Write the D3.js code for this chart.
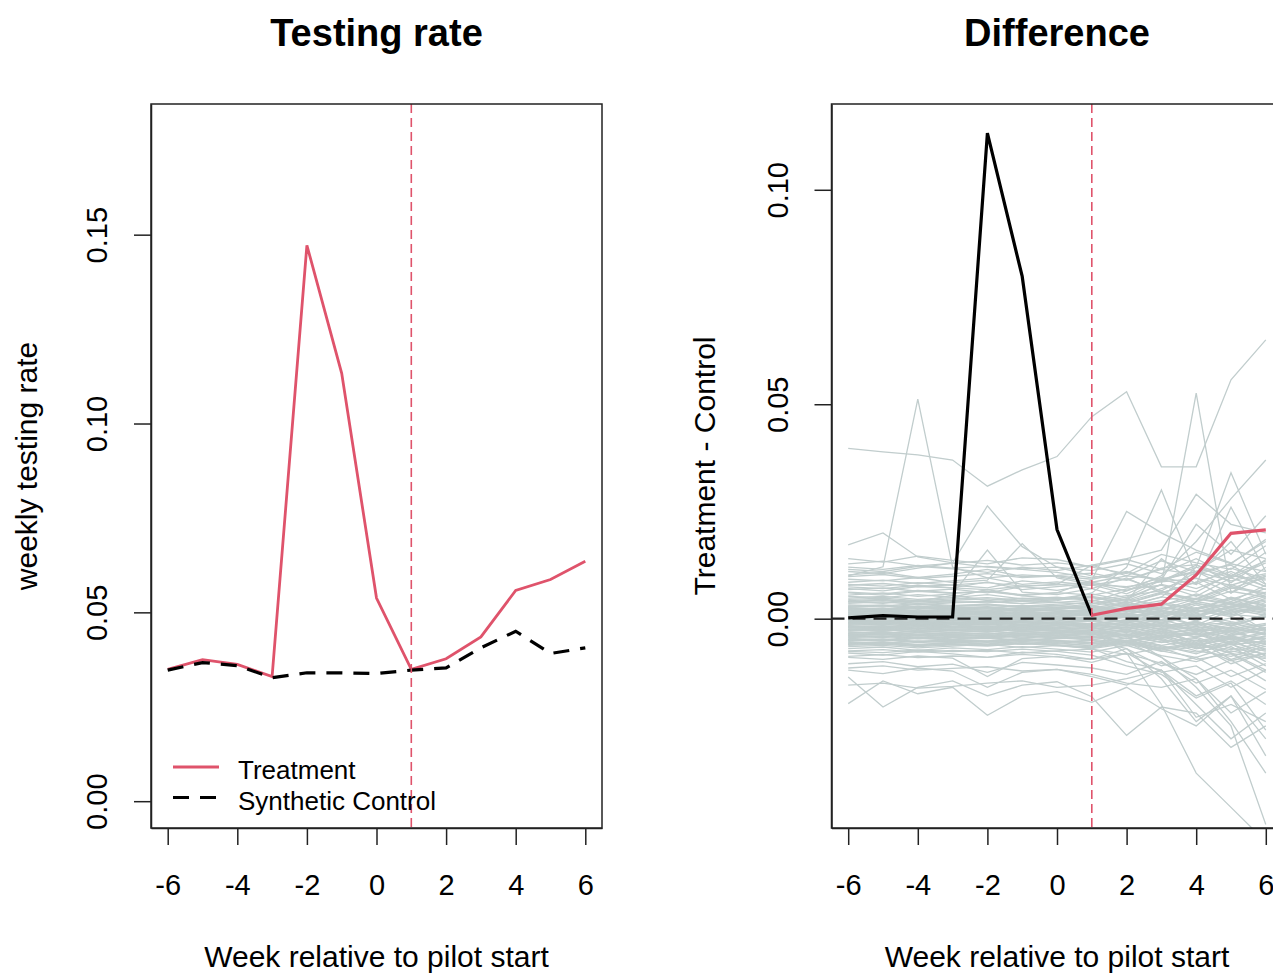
<!DOCTYPE html>
<html>
<head>
<meta charset="utf-8">
<script src="https://cdn.jsdelivr.net/npm/d3@7/dist/d3.min.js"></script>
<style>
	body { margin: 0; background: #fff; }
	svg { display: block; font-family: 'Liberation Sans', Arial, sans-serif; }
</style>
</head>
<body>
<div id="chart"></div>
<script>
// weeks relative to pilot start
var weeks = [-6, -5, -4, -3, -2, -1, 0, 1, 2, 3, 4, 5, 6];
var xTicks = [-6, -4, -2, 0, 2, 4, 6];
var pilotWeek = 1;

// left panel: weekly testing rate
var rateTicks = [0, 0.05, 0.10, 0.15];
var treatment = [0.0349, 0.0375, 0.0362, 0.0330, 0.1472, 0.1133, 0.0538, 0.0349, 0.0377, 0.0435, 0.0558, 0.0587, 0.0635];
var syntheticControl = [0.0347, 0.0367, 0.0359, 0.0327, 0.0340, 0.0340, 0.0338, 0.0347, 0.0353, 0.0406, 0.0450, 0.0391, 0.0406];

// right panel: treatment - control
var gapTicks = [0, 0.05, 0.10];
var gap = [0.0002, 0.0007, 0.0004, 0.0004, 0.1132, 0.0798, 0.0208, 0.0008, 0.0024, 0.0034, 0.0102, 0.0199, 0.0207];

// placebo gaps (one row per control unit), in thousandths
var placeboUnit = 0.001;
var placebo = [
	[0.5, 0.8, 0.3, 0.6, 0.2, 0.4, 0.1, -0.3, 0.6, 1.2, 2.0, 1.5, 2.8],
	[-1.2, -0.9, -1.5, -1.0, -1.3, -0.8, -1.1, -1.6, -2.0, -1.4, -2.5, -3.1, -2.2],
	[1.8, 1.5, 2.1, 1.7, 1.9, 2.4, 2.0, 1.6, 1.1, 2.3, 3.5, 2.6, 4.1],
	[-2.6, -2.9, -2.3, -2.8, -2.4, -3.0, -2.7, -3.3, -2.6, -4.1, -3.2, -5.5, -4.0],
	[-0.4, -0.2, -0.7, -0.3, -0.6, -0.1, -0.5, 0.3, -0.9, -0.2, 1.4, -1.8, 0.6],
	[2.9, 3.2, 2.6, 3.0, 3.4, 2.8, 3.1, 2.5, 3.8, 2.2, 4.6, 3.3, 1.9],
	[-3.8, -3.5, -4.0, -3.6, -4.2, -3.9, -3.4, -4.4, -3.7, -5.0, -6.2, -4.5, -7.1],
	[-4.9, -5.2, -4.6, -5.0, -5.4, -4.8, -5.1, -5.6, -6.3, -5.2, -7.5, -8.8, -6.4],
	[0.9, 1.2, 0.7, 1.1, 0.8, 1.3, 0.6, 1.0, 0.4, 1.6, -0.5, 2.2, 0.8],
	[-1.8, -2.1, -1.6, -2.0, -1.7, -2.2, -1.9, -1.3, -2.5, -1.1, -3.0, -2.0, -3.6],
	[3.6, 3.9, 3.3, 3.7, 4.0, 3.5, 3.8, 4.3, 3.0, 5.1, 3.9, 6.4, 5.0],
	[-5.8, -5.5, -6.1, -5.7, -5.3, -6.0, -5.6, -6.4, -5.2, -7.0, -5.9, -8.1, -9.3],
	[0.2, -0.1, 0.4, 0.0, 0.3, -0.2, 0.1, 0.5, 1.1, 0.4, 2.3, 3.6, 2.0],
	[-0.9, -1.2, -0.6, -1.0, -0.7, -1.3, -0.8, -0.4, -1.5, -2.3, -1.0, -3.4, -4.6],
	[1.3, 1.0, 1.6, 1.2, 1.5, 0.9, 1.4, 1.8, 2.5, 1.3, 0.6, 2.9, 4.4],
	[-3.1, -3.4, -2.9, -3.2, -3.6, -3.0, -3.3, -2.7, -4.0, -3.5, -5.2, -3.9, -6.0],
	[-2.2, -2.0, -2.5, -2.1, -1.8, -2.4, -2.3, -2.8, -1.9, -3.3, -2.6, -4.7, -3.2],
	[2.4, 2.1, 2.7, 2.3, 2.0, 2.6, 2.2, 2.9, 1.7, 3.2, 4.8, 3.5, 5.6],
	[-4.3, -4.0, -4.6, -4.2, -4.5, -3.9, -4.4, -4.8, -5.5, -4.1, -6.8, -5.3, -4.6],
	[0.0, 0.3, -0.2, 0.1, -0.3, 0.2, -0.1, -0.6, 0.4, -1.2, 0.9, -0.7, -2.1],
	[-1.5, -1.3, -1.8, -1.4, -1.2, -1.7, -1.6, -1.9, -1.1, -2.6, -1.8, -2.9, -1.4],
	[1.1, 1.4, 0.8, 1.3, 1.0, 1.5, 1.2, 0.7, 1.9, 0.9, 2.6, 1.2, 3.3],
	[-3.3, -3.0, -3.6, -3.2, -2.9, -3.5, -3.1, -3.7, -2.8, -4.4, -3.6, -6.1, -5.2],
	[-0.6, -0.9, -0.4, -0.8, -0.5, -1.0, -0.7, -1.2, -0.3, -1.6, -0.8, -2.4, -1.1],
	[-2.8, -2.5, -3.1, -2.7, -3.0, -2.4, -2.9, -3.2, -3.8, -2.5, -4.3, -3.0, -5.0],
	[0.7, 0.4, 0.9, 0.6, 0.5, 0.8, 0.3, 1.0, 0.2, 1.7, 0.4, 2.6, 1.5],
	[-4.6, -4.9, -4.3, -4.7, -4.4, -5.0, -4.5, -4.1, -5.2, -3.8, -6.0, -7.2, -5.5],
	[-1.0, -0.7, -1.3, -0.9, -1.1, -0.6, -1.2, -1.5, -0.8, -2.0, -1.4, -1.0, -2.7],
	[-5.3, -5.0, -5.6, -5.2, -5.5, -5.1, -5.4, -5.9, -5.0, -6.5, -7.8, -6.0, -8.5],
	[1.6, 1.9, 1.4, 1.8, 1.5, 2.0, 1.7, 2.2, 1.2, 2.8, 1.5, 3.9, 2.4],
	[-0.2, 0.1, -0.4, -0.1, -0.3, 0.0, -0.2, 0.2, -0.6, 0.8, -1.5, 1.9, -2.8],
	[-3.5, -3.8, -3.2, -3.6, -3.3, -3.9, -3.4, -3.0, -4.2, -2.6, -5.5, -4.0, -7.4],
	[2.1, 1.8, 2.4, 2.0, 2.3, 1.7, 2.2, 2.6, 1.5, 3.5, 2.0, 5.0, 3.1],
	[-4.1, -4.4, -3.8, -4.2, -3.9, -4.5, -4.0, -4.6, -3.5, -5.6, -4.3, -6.9, -8.2],
	[0.4, 0.1, 0.6, 0.3, 0.7, 0.2, 0.5, 0.0, 1.0, -0.5, 1.8, 0.5, 3.0],
	[-2.0, -1.7, -2.3, -1.9, -2.2, -1.6, -2.1, -2.5, -1.4, -3.0, -4.2, -2.3, -3.8],
	[-5.0, -4.7, -5.3, -4.9, -5.2, -4.6, -5.1, -5.5, -4.5, -6.2, -5.0, -9.5, -7.0],
	[1.4, 1.7, 1.1, 1.5, 1.2, 1.8, 1.3, 0.9, 2.2, 0.5, 3.2, 1.0, 0.3],
	[-1.3, -1.0, -1.6, -1.2, -1.5, -0.9, -1.4, -1.8, -0.8, -2.5, -1.2, -3.8, -2.0],
	[-6.2, -5.9, -6.5, -6.1, -6.4, -5.8, -6.3, -6.8, -5.5, -7.5, -9.0, -6.5, -11.0],
	[3.2, 3.0, 3.5, 3.1, 3.3, 2.9, 3.4, 3.7, 2.8, 4.2, 5.5, 3.6, 6.2],
	[-0.8, -0.5, -1.1, -0.7, -1.0, -0.4, -0.9, -1.3, -0.2, -1.9, -0.6, -2.8, -1.5],
	[4.2, 4.5, 3.9, 4.3, 4.6, 4.0, 4.4, 4.9, 3.6, 5.8, 4.5, 7.5, 6.0],
	[-2.4, -2.7, -2.1, -2.5, -2.2, -2.8, -2.3, -2.0, -3.1, -1.5, -3.8, -2.6, -5.4],
	[0.1, 0.4, -0.1, 0.2, 0.0, 0.5, 0.3, -0.2, 0.8, -0.9, 1.2, -1.5, 0.5],
	[-3.7, -3.4, -4.0, -3.6, -3.9, -3.3, -3.8, -4.2, -3.2, -4.9, -6.5, -4.2, -5.8],
	[2.6, 2.3, 2.9, 2.5, 2.8, 2.2, 2.7, 3.1, 2.0, 3.8, 2.4, 4.5, 2.0],
	[-5.5, -5.8, -5.2, -5.6, -5.3, -5.9, -5.4, -5.0, -6.0, -4.6, -7.0, -5.8, -10.0],
	[-1.6, -1.9, -1.3, -1.7, -1.4, -2.0, -1.5, -1.1, -2.2, -0.8, -2.8, -1.5, -3.5],
	[1.0, 0.7, 1.3, 0.9, 1.2, 0.6, 1.1, 1.5, 0.5, 2.0, 0.8, 3.0, 1.8],
	[-4.4, -4.1, -4.7, -4.3, -4.6, -4.0, -4.5, -4.9, -3.9, -5.5, -4.6, -7.8, -6.0],
	[3.9, 4.2, 3.6, 4.0, 3.7, 4.3, 3.8, 3.4, 4.6, 3.0, 5.8, 4.0, 7.8],
	[-0.3, -0.6, 0.0, -0.4, -0.1, -0.7, -0.2, 0.1, -0.8, 0.5, -1.6, 0.2, -2.5],
	[-2.9, -2.6, -3.2, -2.8, -3.1, -2.5, -3.0, -3.4, -2.4, -4.0, -2.9, -5.0, -3.5],
	[1.9, 2.2, 1.6, 2.0, 1.7, 2.3, 1.8, 1.4, 2.6, 1.0, 3.6, 1.8, 4.8],
	[-6.0, -5.7, -6.3, -5.9, -6.2, -5.6, -6.1, -6.6, -5.4, -7.3, -6.0, -10.5, -8.0],
	[0.6, 0.9, 0.3, 0.7, 0.4, 1.0, 0.5, 0.2, 1.3, -0.2, 2.0, 0.8, 3.8],
	[-3.9, -4.2, -3.6, -4.0, -3.7, -4.3, -3.8, -3.4, -4.6, -3.0, -5.8, -4.2, -6.6],
	[-1.1, -1.4, -0.8, -1.2, -0.9, -1.5, -1.0, -0.6, -1.7, -0.2, -2.3, -1.0, -3.0],
	[2.3, 2.0, 2.6, 2.2, 2.5, 1.9, 2.4, 2.8, 1.8, 3.4, 2.2, 4.8, 2.9],
	[-5.1, -4.8, -5.4, -5.0, -5.3, -4.7, -5.2, -5.6, -4.6, -6.3, -8.2, -5.5, -7.6],
	[-0.1, 0.2, -0.3, 0.0, -0.2, 0.1, -0.1, -0.4, 0.3, -0.8, 0.6, -1.2, 1.0],
	[-2.5, -2.2, -2.8, -2.4, -2.7, -2.1, -2.6, -3.0, -2.0, -3.6, -2.5, -4.4, -6.0],
	[1.5, 1.2, 1.8, 1.4, 1.7, 1.1, 1.6, 2.0, 1.0, 2.6, 1.4, 3.4, 2.2],
	[-4.8, -5.1, -4.5, -4.9, -4.6, -5.2, -4.7, -4.3, -5.4, -3.9, -6.2, -4.8, -8.8],
	[-1.9, -1.6, -2.2, -1.8, -2.1, -1.5, -2.0, -2.4, -1.4, -3.0, -1.9, -4.0, -2.5],
	[0.8, 0.5, 1.1, 0.7, 1.0, 0.4, 0.9, 1.3, 0.3, 1.9, 0.7, 2.6, 1.2],
	[-3.4, -3.1, -3.7, -3.3, -3.6, -3.0, -3.5, -3.9, -2.9, -4.6, -3.4, -5.8, -4.2],
	[2.7, 3.0, 2.4, 2.8, 2.5, 3.1, 2.6, 2.2, 3.4, 1.8, 4.0, 2.6, 5.2],
	[-5.7, -5.4, -6.0, -5.6, -5.9, -5.3, -5.8, -6.2, -5.2, -6.8, -5.6, -8.0, -12.0],
	[12.0, 11.5, 12.4, 11.8, 12.2, 11.6, 12.0, 11.2, 12.8, 10.5, 14.0, 9.8, 15.5],
	[8.5, 9.0, 8.2, 8.8, 9.5, 8.0, 8.6, 7.8, 9.2, 6.5, 10.8, 12.5, 8.0],
	[6.2, 5.8, 6.6, 6.0, 6.4, 5.6, 6.1, 5.5, 6.9, 7.8, 5.2, 9.5, 6.8],
	[10.2, 10.8, 9.6, 10.4, 11.5, 9.8, 10.1, 10.6, 9.0, 11.8, 12.6, 8.4, 13.8],
	[4.8, 5.2, 4.5, 4.9, 5.6, 4.6, 5.0, 4.2, 5.4, 6.5, 4.0, 7.2, 5.8],
	[14.0, 13.2, 14.6, 13.6, 12.8, 14.2, 13.8, 12.0, 10.5, 15.0, 13.0, 11.5, 17.0],
	[7.4, 7.0, 7.8, 7.2, 8.6, 6.8, 7.5, 8.2, 6.5, 9.0, 11.0, 7.0, 9.8],
	[17.2, 20.0, 14.4, 13.0, 12.0, 11.5, 10.8, 9.5, 11.0, 8.8, 12.5, 10.0, 9.0],
	[10.0, 12.1, 51.2, 12.0, 9.5, 10.2, 9.8, 8.5, 10.0, 9.2, 11.0, 8.8, 10.5],
	[11.0, 10.5, 11.8, 13.0, 26.3, 16.8, 12.0, 10.0, 9.0, 11.5, 10.2, 12.8, 11.0],
	[9.2, 8.8, 9.6, 8.4, 9.0, 17.5, 9.5, 8.0, 7.5, 8.6, 9.4, 7.8, 10.2],
	[5.5, 6.0, 5.2, 5.8, 16.0, 6.2, 5.6, 7.0, 4.8, 8.0, 6.2, 10.5, 7.5],
	[3.9, 4.4, 4.0, 5.5, 4.2, 4.8, 4.5, 5.0, 3.5, 6.0, 8.5, 4.5, 7.0],
	[8.0, 7.6, 8.4, 7.8, 7.2, 8.8, 8.1, 7.0, 9.5, 6.0, 8.5, 11.0, 7.5],
	[5.2, 4.9, 5.6, 5.0, 6.8, 5.3, 4.7, 5.8, 4.2, 7.0, 9.5, 6.0, 12.0],
	[11.5, 11.0, 12.2, 11.6, 10.8, 12.0, 11.2, 12.5, 10.0, 13.5, 11.0, 16.0, 14.0],
	[6.8, 7.2, 6.4, 6.9, 6.0, 7.5, 6.6, 7.9, 5.8, 9.2, 7.0, 10.0, 13.5],
	[9.8, 10.3, 9.4, 9.9, 10.5, 9.6, 10.0, 9.2, 10.8, 8.6, 12.0, 9.5, 13.0],
	[7.8, 8.2, 7.5, 7.9, 8.4, 7.6, 7.9, 8.5, 7.2, 9.6, 8.0, 11.8, 9.2],
	[12.8, 13.4, 12.3, 12.9, 13.6, 12.5, 13.0, 12.2, 13.8, 11.5, 15.5, 12.8, 18.5],
	[4.5, 4.8, 4.2, 4.6, 4.9, 4.3, 4.7, 5.2, 4.0, 6.2, 4.6, 8.0, 5.2],
	[-13.6, -20.6, -16.0, -14.5, -18.0, -15.5, -14.7, -18.2, -27.2, -20.6, -22.0, -30.0, -25.0],
	[-19.8, -14.5, -17.5, -16.0, -22.5, -18.0, -17.0, -19.5, -16.0, -21.0, -25.0, -18.0, -28.0],
	[-8.0, -8.5, -7.6, -8.2, -9.0, -7.8, -8.3, -9.5, -7.0, -11.0, -9.0, -13.5, -10.5],
	[-10.5, -10.0, -11.2, -10.6, -12.5, -10.2, -10.8, -11.5, -13.0, -10.0, -15.0, -12.0, -16.5],
	[-7.0, -6.6, -7.4, -6.8, -7.2, -6.5, -7.1, -7.8, -6.2, -8.6, -10.0, -7.5, -9.0],
	[-12.0, -12.8, -11.5, -12.2, -16.0, -12.5, -11.8, -13.5, -15.5, -12.0, -18.0, -14.5, -20.0],
	[-9.0, -9.5, -8.7, -9.2, -13.5, -9.3, -8.8, -10.2, -8.0, -12.5, -11.0, -16.0, -12.0],
	[-15.5, -15.0, -16.2, -15.8, -15.0, -14.5, -16.0, -15.5, -14.0, -12.0, -23.0, -20.0, -24.0],
	[-6.5, -6.2, -6.8, -6.4, -6.0, -6.7, -6.3, -7.0, -5.8, -7.6, -6.5, -9.8, -8.0],
	[-7.6, -7.9, -7.3, -7.7, -7.4, -8.0, -7.5, -7.1, -8.3, -6.8, -9.5, -8.2, -12.5],
	[-8.8, -8.4, -9.1, -8.7, -9.0, -8.3, -8.9, -9.5, -8.1, -10.4, -13.0, -9.6, -14.5],
	[39.7, 38.9, 38.2, 37.0, 30.9, 34.7, 37.8, 47.1, 52.9, 35.4, 35.4, 55.7, 65.0],
	[2.0, 2.4, 1.8, 2.2, 2.6, 1.9, 2.3, 3.0, 4.5, 8.0, 52.6, 6.0, 10.0],
	[4.0, 3.6, 4.3, 3.8, 4.1, 3.5, 4.2, 6.0, 12.0, 30.0, 10.0, 18.0, 8.0],
	[1.0, 1.3, 0.8, 1.2, 0.9, 1.4, 1.1, 2.0, 3.0, 5.0, 12.0, 34.0, 15.0],
	[3.0, 2.7, 3.3, 2.9, 3.2, 2.6, 3.0, 4.0, 6.5, 10.0, 18.0, 28.0, 37.0],
	[6.0, 5.5, 6.4, 5.9, 6.3, 5.4, 6.0, 9.0, 25.0, 20.0, 16.0, 13.0, 18.0],
	[7.0, 6.5, 7.5, 7.2, 6.8, 7.6, 8.0, 12.5, 14.0, 16.0, 29.0, 22.0, 20.0],
	[2.5, 2.2, 2.8, 2.4, 2.7, 2.1, 2.6, 3.5, 5.0, 9.0, 22.0, 15.0, 24.0],
	[0.5, 0.8, 0.3, 0.7, 0.4, 0.9, 0.6, 1.5, 4.0, 14.0, 8.0, 26.0, 11.0],
	[-2.0, -2.3, -1.8, -2.1, -2.4, -1.9, -2.2, -3.0, -8.0, -20.0, -36.0, -44.0, -52.0],
	[-1.0, -0.8, -1.3, -1.1, -0.9, -1.4, -1.2, -2.0, -4.0, -9.0, -16.0, -25.0, -48.0],
	[-4.0, -3.7, -4.3, -3.9, -4.2, -3.6, -4.1, -5.0, -7.0, -14.0, -24.0, -18.0, -32.0],
	[-6.0, -5.7, -6.3, -5.9, -6.2, -5.6, -6.1, -7.0, -10.0, -12.0, -20.0, -28.0, -22.0],
	[-11.5, -11.0, -12.0, -11.6, -11.2, -12.2, -11.8, -13.0, -15.0, -16.0, -14.0, -24.0, -36.0],
	[-2.5, -2.2, -2.8, -2.4, -2.7, -2.1, -2.6, -3.5, -5.5, -9.0, -14.0, -22.0, -17.0],
	[-7.5, -7.2, -7.8, -7.4, -7.7, -7.1, -7.6, -8.5, -11.0, -13.0, -18.5, -15.0, -26.0]
];

var chartCreator = (function() {

	var self = {};

	self.red = '#DF536B';
	self.gray = '#C1CDCD';

	function zipSeries(values, unit) {
		return weeks.map(function(w, i) {
			return {key: w, value: values[i] * (unit || 1)};
		});
	}

	// frame, axes and titles in the style of base R plots
	function createFrame(svg, options) {
		var box = options.box;
		var g = svg.append('g')
			.attr('transform', 'translate(' + box.left + ',' + box.top + ')');

		var x = d3.scaleLinear().domain(options.xDomain).range([0, box.width]);
		var y = d3.scaleLinear().domain(options.yDomain).range([box.height, 0]);

		g.append('clipPath')
			.attr('id', options.id + '-clip')
			.append('rect')
			.attr('width', box.width)
			.attr('height', box.height);

		var plot = g.append('g')
			.attr('clip-path', 'url(#' + options.id + '-clip)');

		var xAxis = d3.axisBottom(x)
			.tickValues(xTicks)
			.tickSize(17)
			.tickSizeOuter(0)
			.tickFormat(d3.format('d'));

		var xg = g.append('g')
			.attr('class', 'axis')
			.attr('transform', 'translate(0,' + box.height + ')')
			.call(xAxis);
		xg.selectAll('text')
			.attr('y', 67)
			.attr('dy', null)
			.text(function(d) { return d < 0 ? '-' + Math.abs(d) : d; });

		var yAxis = d3.axisLeft(y)
			.tickValues(options.yTicks)
			.tickSize(17)
			.tickSizeOuter(0)
			.tickFormat(d3.format('.2f'));

		var yg = g.append('g')
			.attr('class', 'axis')
			.call(yAxis);
		yg.selectAll('text')
			.attr('x', null)
			.attr('dy', null)
			.attr('text-anchor', 'middle')
			.attr('transform', 'translate(-44,0) rotate(-90)');

		g.selectAll('.axis path, .axis line')
			.attr('stroke', '#222')
			.attr('stroke-width', 1.5);
		g.selectAll('.axis text')
			.attr('fill', '#000')
			.style('font-size', '29px')
			.style('font-family', "'Liberation Sans', Arial, sans-serif");

		g.append('text')
			.attr('x', box.width / 2)
			.attr('y', -58)
			.attr('text-anchor', 'middle')
			.style('font-size', '38px')
			.style('font-weight', 'bold')
			.text(options.title);

		g.append('text')
			.attr('x', box.width / 2)
			.attr('y', box.height + 139)
			.attr('text-anchor', 'middle')
			.style('font-size', '30px')
			.text('Week relative to pilot start');

		g.append('text')
			.attr('transform', 'translate(' + (-options.yTitleOffset) + ',' + (box.height / 2) + ') rotate(-90)')
			.attr('text-anchor', 'middle')
			.style('font-size', '30px')
			.text(options.yTitle);

		return {g: g, plot: plot, x: x, y: y, box: box};
	}

	function drawBox(frame) {
		frame.g.append('rect')
			.attr('width', frame.box.width)
			.attr('height', frame.box.height)
			.attr('fill', 'none')
			.attr('stroke', '#222')
			.attr('stroke-width', 1.5);
	}

	function drawPilotLine(frame) {
		frame.plot.append('line')
			.attr('x1', frame.x(pilotWeek))
			.attr('x2', frame.x(pilotWeek))
			.attr('y1', 0)
			.attr('y2', frame.box.height)
			.attr('stroke', self.red)
			.attr('stroke-width', 1.6)
			.attr('stroke-dasharray', '9,5');
	}

	self.createRatePanel = function(svg, options) {
		var frame = createFrame(svg, options);
		var line = d3.line()
			.x(function(d) { return frame.x(d.key); })
			.y(function(d) { return frame.y(d.value); });

		frame.plot.append('path')
			.datum(zipSeries(treatment))
			.attr('fill', 'none')
			.attr('stroke', self.red)
			.attr('stroke-width', 2.8)
			.attr('d', line);

		frame.plot.append('path')
			.datum(zipSeries(syntheticControl))
			.attr('fill', 'none')
			.attr('stroke', '#000')
			.attr('stroke-width', 3.2)
			.attr('stroke-dasharray', '16,11')
			.attr('d', line);

		drawPilotLine(frame);

		// legend, no border
		var legendItems = [
			{label: 'Treatment', color: self.red, dash: null, width: 2.8},
			{label: 'Synthetic Control', color: '#000', dash: '16,11', width: 3.2}
		];
		var legend = frame.g.selectAll('.legend')
			.data(legendItems).enter()
			.append('g')
			.attr('class', 'legend')
			.attr('transform', function(d, i) { return 'translate(22,' + (663 + i * 30.5) + ')'; });

		legend.append('line')
			.attr('x1', 0)
			.attr('x2', 46)
			.attr('stroke', function(d) { return d.color; })
			.attr('stroke-width', function(d) { return d.width; })
			.attr('stroke-dasharray', function(d) { return d.dash; });

		legend.append('text')
			.attr('x', 65)
			.attr('y', 12)
			.style('font-size', '26px')
			.text(function(d) { return d.label; });

		drawBox(frame);
	};

	self.createGapPanel = function(svg, options) {
		var frame = createFrame(svg, options);
		var line = d3.line()
			.x(function(d) { return frame.x(d.key); })
			.y(function(d) { return frame.y(d.value); });

		frame.plot.selectAll('.placebo')
			.data(placebo).enter()
			.append('path')
			.attr('class', 'placebo')
			.attr('fill', 'none')
			.attr('stroke', self.gray)
			.attr('stroke-width', 1.3)
			.attr('d', function(d) { return line(zipSeries(d, placeboUnit)); });

		frame.plot.append('line')
			.attr('x1', 0)
			.attr('x2', frame.box.width)
			.attr('y1', frame.y(0))
			.attr('y2', frame.y(0))
			.attr('stroke', '#222')
			.attr('stroke-width', 2.2)
			.attr('stroke-dasharray', '13,8');

		var gapData = zipSeries(gap);
		var pre = gapData.filter(function(d) { return d.key <= pilotWeek; });
		var post = gapData.filter(function(d) { return d.key >= pilotWeek; });

		frame.plot.append('path')
			.datum(pre)
			.attr('fill', 'none')
			.attr('stroke', '#000')
			.attr('stroke-width', 3.2)
			.attr('d', line);

		frame.plot.append('path')
			.datum(post)
			.attr('fill', 'none')
			.attr('stroke', self.red)
			.attr('stroke-width', 3.2)
			.attr('d', line);

		drawPilotLine(frame);
		drawBox(frame);
	};

	return self;

}());

var svg = d3.select('#chart')
	.append('svg')
	.attr('width', 1273)
	.attr('height', 974);

svg.append('rect')
	.attr('width', 1273)
	.attr('height', 974)
	.attr('fill', '#fff');

chartCreator.createRatePanel(svg, {
	id: 'rate',
	box: {left: 151, top: 104, width: 451, height: 724},
	xDomain: [-6.48, 6.48],
	yDomain: [-0.0071, 0.1846],
	yTicks: rateTicks,
	title: 'Testing rate',
	yTitle: 'weekly testing rate',
	yTitleOffset: 114
});

chartCreator.createGapPanel(svg, {
	id: 'gap',
	box: {left: 831.5, top: 104, width: 451, height: 724},
	xDomain: [-6.48, 6.48],
	yDomain: [-0.0488, 0.1200],
	yTicks: gapTicks,
	title: 'Difference',
	yTitle: 'Treatment - Control',
	yTitleOffset: 117
});
</script>
</body>
</html>
